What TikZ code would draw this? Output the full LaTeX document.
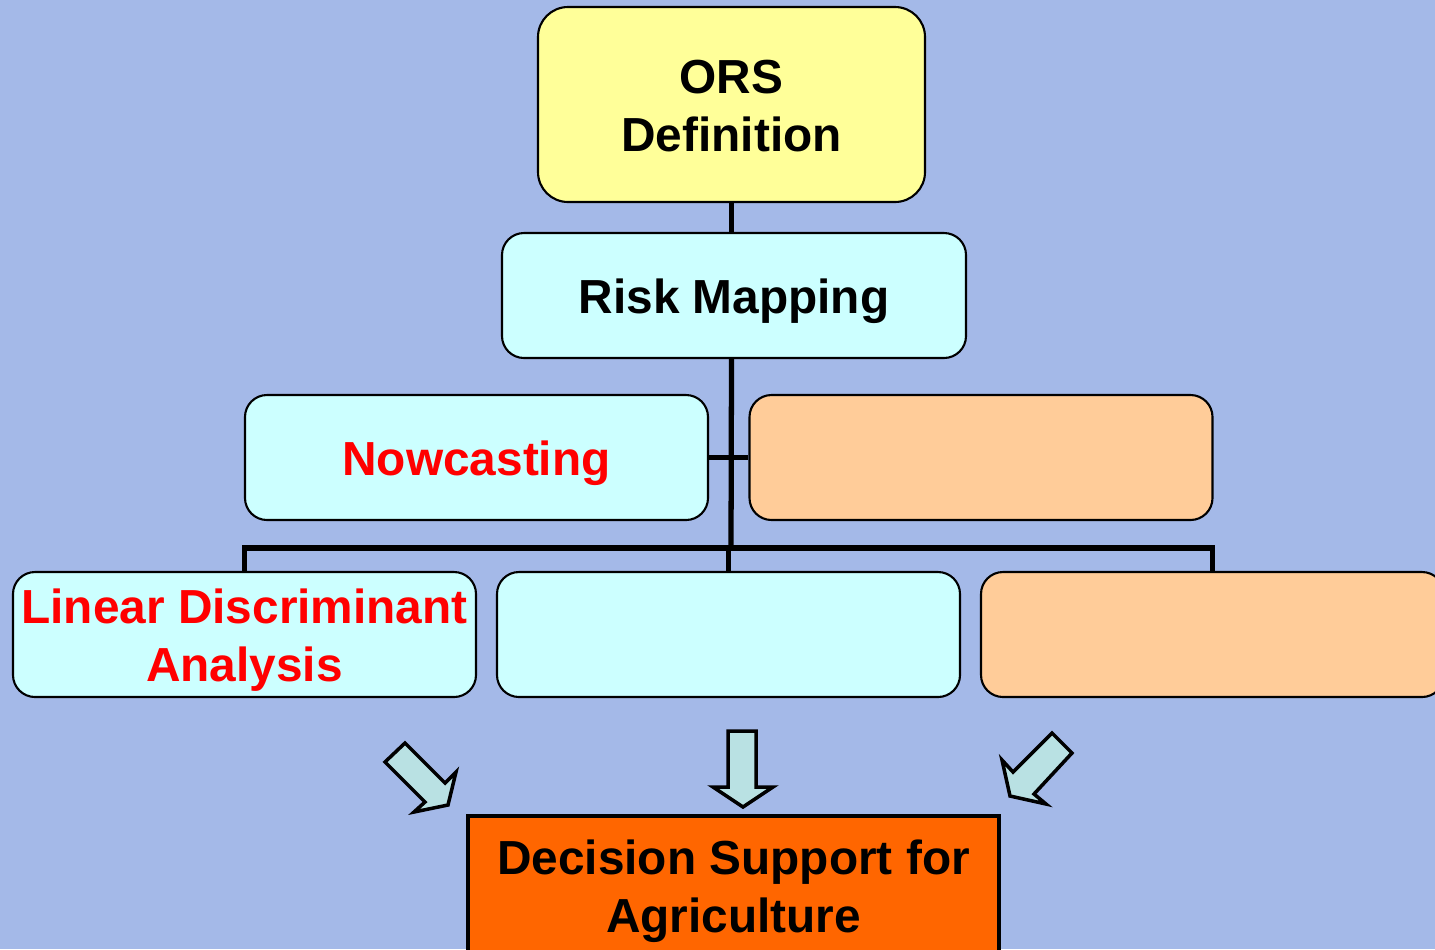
\documentclass[tikz,border=0pt]{standalone}
\usepackage{fontspec}
\setmainfont{Liberation Sans}
\usetikzlibrary{positioning}

\begin{document}
\begin{tikzpicture}[
    box/.style={rectangle, rounded corners=0.22cm, draw, line width=0.6pt,
        minimum width=4.63cm, minimum height=1.25cm, inner sep=0pt,
        align=center, font=\fontsize{13.6}{16.5}\selectfont\bfseries,
        execute at begin node={\rule{0pt}{13pt}}},
    twoline/.style={execute at begin node={\rule{0pt}{#1}}},
    twoline/.default=29.6pt,
    link/.style={line width=1.5pt},
    blockarrow/.style={fill=arrowfill, draw=black, line width=1pt, line join=miter}]
\definecolor{bg}{RGB}{164,185,232}
\definecolor{ors}{RGB}{255,255,153}
\definecolor{cyanbox}{RGB}{204,255,255}
\definecolor{peach}{RGB}{255,204,153}
\definecolor{dss}{RGB}{255,102,0}
\definecolor{arrowfill}{RGB}{185,225,227}

% sfondo
\fill[bg] (0,0) rectangle (14.35,-9.49);
\clip (0,0) rectangle (14.35,-9.49);

% nodi
\node[box, twoline=27pt, fill=ors, rounded corners=0.3cm,
    minimum width=3.87cm, minimum height=1.95cm] (ors) at (7.315,-1.045) {ORS\\Definition};
\node[box, fill=cyanbox, minimum width=4.64cm] (risk) at (7.34,-2.955) {Risk Mapping};
\node[box, fill=cyanbox, text=red] (now) at (4.765,-4.575) {Nowcasting};
\node[box, fill=peach] (peachbox) at (9.81,-4.575) {};
\node[box, twoline, fill=cyanbox, text=red] (lda) at (2.445,-6.345) {Linear Discriminant\\Analysis};
\node[box, fill=cyanbox] (mid) at (7.285,-6.345) {};
\node[box, fill=peach] (far) at (12.125,-6.345) {};
\node[box, twoline, rounded corners=0pt, line width=1pt, fill=dss,
    minimum width=5.31cm, minimum height=1.4cm] (dss) at (7.335,-8.86)
    {Decision Support for\\Agriculture};

% collegamenti
\coordinate (bus) at (7.31,-5.48);
\draw[link] (ors.south) -- (ors.south |- risk.north);
\draw[link] (ors.south |- risk.south) -- (bus);
\draw[link] (now.east) -- (peachbox.west);
\draw[link] (lda.north) |- (bus) -| (far.north);
\draw[link] (mid.north) -- (mid.north |- bus);

% frecce
\filldraw[blockarrow]
  (3.85,-7.62) -- (4.05,-7.43) -- (4.45,-7.83) -- (4.56,-7.72)
  -- (4.48,-8.05) -- (4.14,-8.12) -- (4.25,-8.02) -- cycle;
\filldraw[blockarrow]
  (7.28,-7.31) -- (7.56,-7.31) -- (7.56,-7.87) -- (7.73,-7.87)
  -- (7.43,-8.07) -- (7.13,-7.87) -- (7.28,-7.87) -- cycle;
\filldraw[blockarrow]
  (10.52,-7.33) -- (10.72,-7.53) -- (10.34,-7.94) -- (10.46,-8.04)
  -- (10.10,-7.96) -- (10.02,-7.60) -- (10.13,-7.72) -- cycle;

\end{tikzpicture}
\end{document}
